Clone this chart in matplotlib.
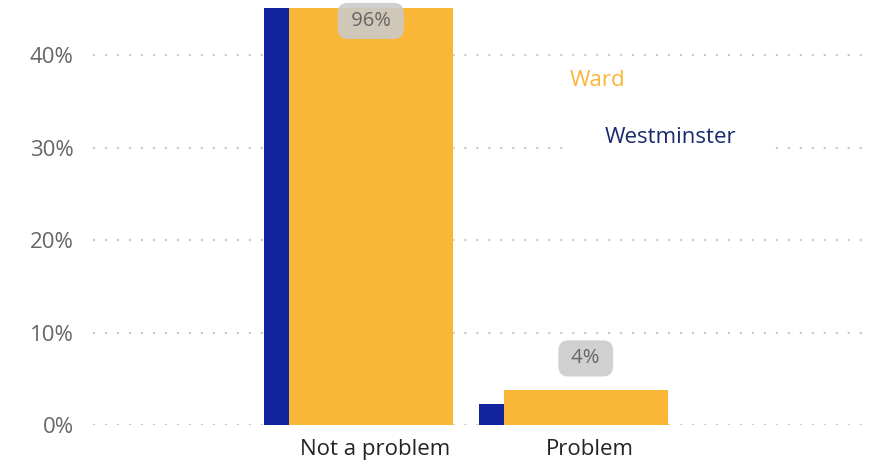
import numpy as np
import matplotlib.pyplot as plt

plt.rcParams['font.family'] = ['Open Sans', 'DejaVu Sans']

categories = ['Not a problem', 'Problem']
ward = [96.0, 3.8]
westminster = [97.7, 2.25]
ward_labels = ['96%', '4%']
yticks = [0, 10, 20, 30, 40]
ytick_labels = ['0%', '10%', '20%', '30%', '40%']

ward_color = '#F9B637'
west_color = '#12239E'

fig = plt.figure(figsize=(8.8, 4.63), dpi=100)
ax = fig.add_axes([93/880, 1-425/463, (865-93)/880, (425-8)/463])
ymax = 45.1
ax.set_ylim(0, ymax)
ax.set_xlim(-1.312, 2.279)

x = np.arange(len(categories))
# westminster bar sits left, ward bar overlaps it
ax.bar(x - 0.515, westminster, width=0.14, align='edge', color=west_color, zorder=2)
ax.bar(x - 0.02, ward, width=0.763, color=ward_color, zorder=3)

for xi, v, lab in zip(x, ward, ward_labels):
    if v > ymax:
        yl = ymax - 1.4
    else:
        yl = v + 3.4
    ax.text(xi - 0.02, yl, ' ' + lab + ' ', ha='center', va='center', fontsize=14.5, color='#666666',
            zorder=5,
            bbox=dict(boxstyle='round,pad=0.4,rounding_size=0.5', fc='#CACACA', ec='none', alpha=0.88))

ax.set_yticks(yticks)
ax.set_yticklabels(ytick_labels, fontsize=16, color='#666666')
ax.set_xticks(x)
ax.set_xticklabels(categories, fontsize=16, color='#252423')
ax.tick_params(length=0)
ax.tick_params(axis='y', pad=14)
ax.tick_params(axis='x', pad=10)
for s in ax.spines.values():
    s.set_visible(False)
ax.yaxis.grid(True, color='#C8C8C8', linewidth=1.5, linestyle=(0, (1, 4.75)), zorder=0)
ax.set_axisbelow(True)

fig.text(597/880, 1-80/463, 'Ward', color=ward_color, fontsize=16, ha='center', va='center')
fig.text(670/880, 1-137/463, 'Westminster', color='#1B2A6B', fontsize=16, ha='center', va='center',
         bbox=dict(fc='white', ec='none', pad=26))

fig.savefig('out.png', dpi=100)
